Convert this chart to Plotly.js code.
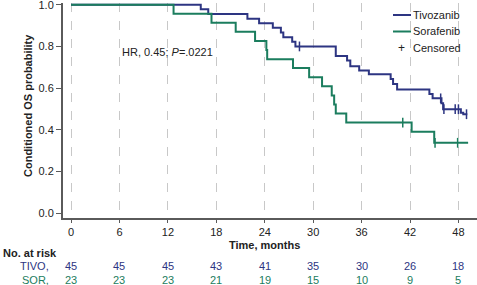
<!DOCTYPE html>
<html>
<head>
<meta charset="utf-8">
<script src="https://cdn.plot.ly/plotly-3.0.1.min.js"></script>
<style>html,body{margin:0;padding:0;background:#fff;}#chart{width:477px;height:285px;}</style>
</head>
<body>
<div id="chart"></div>
<script>
// Tivozanib KM step curve (months, survival after each step)
const tivoTime = [0, 16.07, 17.0, 21.85, 23.3, 25.0, 26.0, 26.3, 27.4, 27.8, 32.8, 34.2, 34.6, 35.7, 36.9, 39.6, 39.9, 40.4, 44.4, 44.8, 45.9, 46.1, 48.3, 48.6, 49.1];
const tivoSurv = [1.0, 0.978, 0.956, 0.933, 0.911, 0.889, 0.867, 0.844, 0.822, 0.800, 0.754, 0.732, 0.705, 0.684, 0.666, 0.644, 0.620, 0.594, 0.572, 0.551, 0.527, 0.499, 0.482, 0.475, 0.475];
const tivoCensTime = [28.3, 45.8, 46.2, 47.6, 48.0, 49.0];
const tivoCensSurv = [0.800, 0.551, 0.499, 0.499, 0.499, 0.475];

// Sorafenib KM step curve
const sorTime = [0, 12.7, 17.4, 20.4, 22.8, 24.2, 24.3, 27.5, 29.5, 31.1, 32.3, 32.6, 32.8, 34.1, 42.2, 45.0, 49.2];
const sorSurv = [1.0, 0.957, 0.913, 0.870, 0.826, 0.783, 0.739, 0.696, 0.652, 0.609, 0.565, 0.522, 0.478, 0.435, 0.391, 0.338, 0.338];
const sorCensTime = [41.1, 45.1, 47.9];
const sorCensSurv = [0.435, 0.338, 0.338];

// Number at risk table
const riskTimes = [0, 6, 12, 18, 24, 30, 36, 42, 48];
const tivoRisk = [45, 45, 45, 43, 41, 35, 30, 26, 18];
const sorRisk = [23, 23, 23, 21, 19, 15, 10, 9, 5];
const yTicks = [0, 0.2, 0.4, 0.6, 0.8, 1.0];

const navy = '#2d3582';
const green = '#1b7d5e';
const FONT = 'Liberation Sans, Arial, sans-serif';

const traces = [
  {x: tivoTime, y: tivoSurv, type: 'scatter', mode: 'lines', line: {shape: 'hv', color: navy, width: 2}, name: 'Tivozanib', showlegend: false, hoverinfo: 'skip', cliponaxis: false},
  {x: sorTime, y: sorSurv, type: 'scatter', mode: 'lines', line: {shape: 'hv', color: green, width: 2}, name: 'Sorafenib', showlegend: false, hoverinfo: 'skip', cliponaxis: false},
  {x: tivoCensTime, y: tivoCensSurv, type: 'scatter', mode: 'markers', marker: {symbol: 'line-ns', size: 7, line: {color: navy, width: 1.5}}, showlegend: false, hoverinfo: 'skip', cliponaxis: false},
  {x: sorCensTime, y: sorCensSurv, type: 'scatter', mode: 'markers', marker: {symbol: 'line-ns', size: 7, line: {color: green, width: 1.5}}, showlegend: false, hoverinfo: 'skip', cliponaxis: false}
];

const pb = 218, pt = 3, ph = pb - pt; // plot area pixel rows
const py = v => (pb - v) / ph;          // pixel row -> paper y
const pl = 63, pw = 414;
const px = v => (v - pl) / pw;          // pixel col -> paper x

function ann(o) {
  return Object.assign({showarrow: false, xanchor: 'center', yanchor: 'middle', font: {family: FONT, size: 11, color: '#222'}}, o);
}

const annotations = [
  ann({x: 12, y: 0.775, xref: 'x', yref: 'y', text: 'HR, 0.45; <i>P</i>=.0221'}),
  ann({x: 24, y: py(245), xref: 'x', yref: 'paper', text: '<b>Time, months</b>'}),
  ann({x: px(28), y: py(106), xref: 'paper', yref: 'paper', text: '<b>Conditioned OS probability</b>', textangle: -90}),
  ann({x: px(1), y: py(252.5), xref: 'paper', yref: 'paper', xanchor: 'left', text: '<b>No. at risk</b>'}),
  ann({x: px(51), y: py(266), xref: 'paper', yref: 'paper', xanchor: 'right', text: 'TIVO,', font: {family: FONT, size: 11, color: navy}}),
  ann({x: px(51), y: py(280), xref: 'paper', yref: 'paper', xanchor: 'right', text: 'SOR,', font: {family: FONT, size: 11, color: green}}),
  // legend texts
  ann({x: px(411), y: py(15), xref: 'paper', yref: 'paper', xanchor: 'left', text: 'Tivozanib'}),
  ann({x: px(411), y: py(31.5), xref: 'paper', yref: 'paper', xanchor: 'left', text: 'Sorafenib'}),
  ann({x: px(411), y: py(47.5), xref: 'paper', yref: 'paper', xanchor: 'left', text: 'Censored'}),
  ann({x: px(401.5), y: py(47.5), xref: 'paper', yref: 'paper', text: '+', font: {family: FONT, size: 12, color: '#222'}})
];
riskTimes.forEach((t, i) => {
  annotations.push(ann({x: t, y: py(266), xref: 'x', yref: 'paper', text: String(tivoRisk[i]), font: {family: FONT, size: 11, color: navy}}));
  annotations.push(ann({x: t, y: py(280), xref: 'x', yref: 'paper', text: String(sorRisk[i]), font: {family: FONT, size: 11, color: green}}));
});

const shapes = [
  {type: 'line', xref: 'paper', yref: 'paper', x0: px(393), x1: px(411), y0: py(15), y1: py(15), line: {color: navy, width: 2}},
  {type: 'line', xref: 'paper', yref: 'paper', x0: px(393), x1: px(411), y0: py(31.5), y1: py(31.5), line: {color: green, width: 2}}
];

const layout = {
  width: 477, height: 285,
  margin: {l: pl, r: 0, t: pt, b: 285 - pb, pad: 0},
  paper_bgcolor: '#fff', plot_bgcolor: '#fff',
  showlegend: false,
  font: {family: FONT, size: 11, color: '#222'},
  xaxis: {
    range: [-1, 50.3], tickvals: riskTimes, ticktext: riskTimes.map(String),
    showline: true, linecolor: '#5a5a5a', linewidth: 2,
    ticks: 'outside', ticklen: 3, tickwidth: 1, tickcolor: '#5a5a5a',
    showgrid: true, gridcolor: '#c8c8c8', gridwidth: 1, griddash: 'dash',
    zeroline: false, tickfont: {family: FONT, size: 11, color: '#222'},
    ticklabeloverflow: 'allow'
  },
  yaxis: {
    range: [-(pb - 213.3) / 208.6, (213.3 - pt) / 208.6],
    tickvals: yTicks, ticktext: yTicks.map(v => v.toFixed(1)),
    showline: true, linecolor: '#5a5a5a', linewidth: 2,
    ticks: 'outside', ticklen: 5, tickwidth: 1, tickcolor: '#5a5a5a',
    showgrid: false, zeroline: false, tickfont: {family: FONT, size: 11, color: '#222'},
    ticklabeloverflow: 'allow'
  },
  annotations: annotations,
  shapes: shapes
};

Plotly.newPlot('chart', traces, layout, {displayModeBar: false, staticPlot: true});
</script>
</body>
</html>
